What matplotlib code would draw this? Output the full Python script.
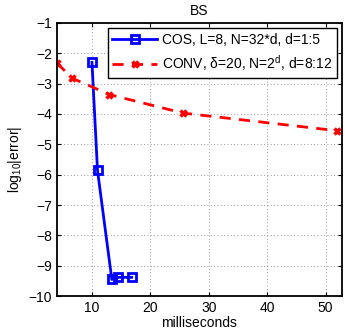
import matplotlib
matplotlib.use("Agg")
import matplotlib.pyplot as plt

plt.rcParams['font.family'] = ['Liberation Sans', 'DejaVu Sans']
plt.rcParams['mathtext.fontset'] = 'custom'
plt.rcParams['mathtext.rm'] = 'Liberation Sans'
plt.rcParams['mathtext.it'] = 'Liberation Sans:italic'

cos_ms = [10.0, 10.95, 13.4, 14.5, 16.8]
cos_err = [-2.30, -5.86, -9.45, -9.38, -9.38]
conv_ms = [4.0, 6.6, 13.0, 25.6, 51.9]
conv_err = [-2.32, -2.82, -3.36, -3.97, -4.55]
cos_label = "COS, L=8, N=32*d, d=1:5"
conv_label = "CONV, δ=20, N=2$^\\mathregular{d}$, d=8:12"
xticks = [10, 20, 30, 40, 50]
yticks = [-10, -9, -8, -7, -6, -5, -4, -3, -2, -1]

fig = plt.figure(figsize=(3.45, 3.32), dpi=100)
ax = fig.add_axes([0.165, 0.108, 0.826, 0.823])

ax.plot(cos_ms, cos_err, '-s', color='#0000ff', lw=2, ms=5.5, mfc='none',
        mec='#0000ff', mew=2, label=cos_label)
ax.plot(conv_ms, conv_err, '--x', color='#ff0000', lw=2, ms=5, mew=2.5,
        dashes=(4, 3), label=conv_label)

ax.set_xlim(4.0, 52.8)
ax.set_ylim(-10, -1)
ax.set_xticks(xticks)
ax.set_yticks(yticks)
ax.set_yticklabels([str(v).replace('-', '\u2212') for v in yticks])
ax.grid(True, linestyle=(0, (1, 3)), color='#777777', lw=0.6)
ax.tick_params(direction='in', labelsize=10, length=3, top=True, right=True)
for s in ax.spines.values():
    s.set_linewidth(1.3)

ax.set_title('BS', fontsize=10, pad=6)
ax.set_xlabel('milliseconds', fontsize=10, labelpad=1)
ax.set_ylabel('log$_{\\mathregular{10}}$|error|', fontsize=10, labelpad=3)

leg = ax.legend(loc='upper right', fontsize=10, fancybox=False, framealpha=1,
                edgecolor='black', handlelength=3.2, borderaxespad=0.35,
                handletextpad=0.35, borderpad=0.35, labelspacing=0.45)
leg.get_frame().set_linewidth(1.0)

fig.savefig('out.png', dpi=100)
